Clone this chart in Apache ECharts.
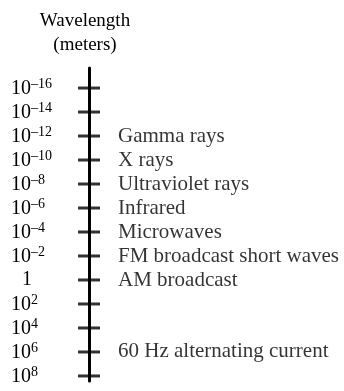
<!DOCTYPE html>
<html>
<head>
<meta charset="utf-8">
<script src="https://cdn.jsdelivr.net/npm/echarts@6/dist/echarts.min.js"></script>
<style>
  html, body { margin: 0; padding: 0; background: #fff; }
  #main { width: 344px; height: 391px; }
</style>
</head>
<body>
<div id="main"></div>
<script>
// exponents of ten shown on the scale
var tickExps = [-16, -14, -12, -10, -8, -6, -4, -2, 0, 2, 4, 6, 8];
// bands written beside the scale
var bandExps = [-12, -10, -8, -6, -4, -2, 0, 6];
var bandNames = ['Gamma rays', 'X rays', 'Ultraviolet rays', 'Infrared', 'Microwaves',
  'FM broadcast short waves', 'AM broadcast', '60 Hz alternating current'];

var FONT = '"Liberation Serif", "Times New Roman", serif';

var myChart = echarts.init(document.getElementById('main'));

var bandData = bandExps.map(function (e, i) { return { value: [0, e], name: bandNames[i] }; });
var tickData = tickExps.map(function (e) { return [0, e]; });

myChart.setOption({
  animation: false,
  graphic: [{
    type: 'text', x: 85, y: 9,
    style: { text: 'Wavelength\n(meters)', align: 'center', font: '19px ' + FONT, lineHeight: 24, fill: '#000' }
  }],
  grid: { left: 89, right: 10, top: 68, bottom: 10 },
  xAxis: { type: 'value', min: 0, max: 1, show: false },
  yAxis: {
    type: 'value', inverse: true, min: -17.67, max: 8.42,
    splitLine: { show: false },
    axisLine: { show: true, lineStyle: { color: '#000', width: 3 } },
    axisTick: { show: false },
    axisLabel: {
      customValues: tickExps,
      align: 'left', margin: 78,
      formatter: function (v) {
        if (v === 0) return '{one|1}';
        var s = (v < 0 ? '\u2013' : '') + Math.abs(v);
        return '{b|10}{s|' + s + '}';
      },
      rich: {
        b: { fontFamily: FONT, fontSize: 20, color: '#000', verticalAlign: 'bottom', lineHeight: 22 },
        s: { fontFamily: FONT, fontSize: 14, color: '#000', verticalAlign: 'top' },
        one: { fontFamily: FONT, fontSize: 20, color: '#000', padding: [0, 0, 0, 11] }
      }
    }
  },
  series: [{
    type: 'scatter',
    data: tickData,
    symbol: 'rect',
    symbolSize: [22, 3],
    itemStyle: { color: '#000' },
    silent: true
  }, {
    type: 'scatter',
    data: bandData,
    symbolSize: 0,
    label: {
      show: true, position: 'right', distance: 29,
      formatter: '{b}',
      fontFamily: FONT, fontSize: 21, color: '#000'
    },
    silent: true
  }]
});
</script>
</body>
</html>
